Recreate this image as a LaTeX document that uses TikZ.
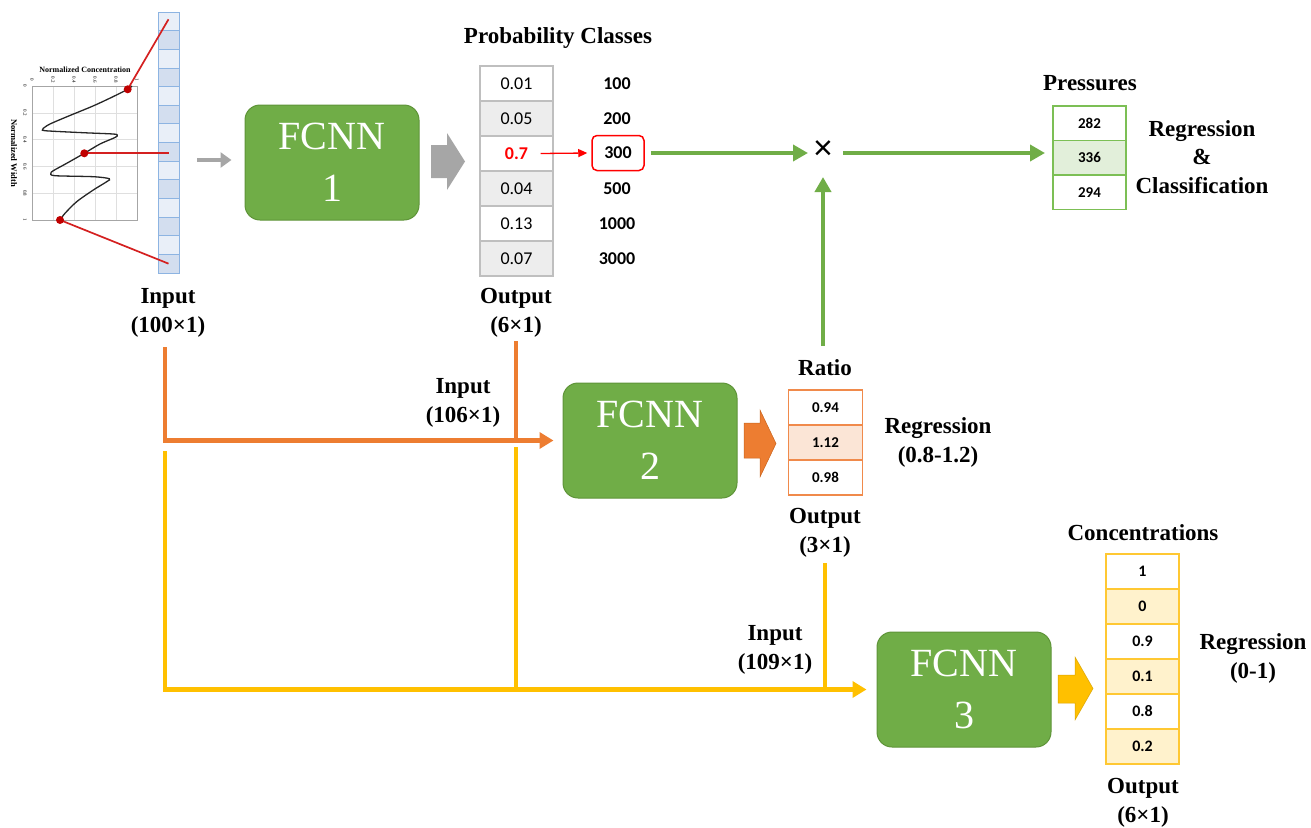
\documentclass[tikz,border=0pt]{standalone}
\usepackage{fontspec}
\setmainfont{Liberation Serif}
\newfontfamily\calfont{Carlito}
\newfontfamily\lsans{Liberation Sans}
\usetikzlibrary{arrows.meta,calc}
\definecolor{fgreen}{HTML}{70AD47}
\definecolor{fgreendark}{HTML}{5E9438}
\definecolor{gorange}{HTML}{ED7D31}
\definecolor{gorangedark}{HTML}{C8641E}
\definecolor{gyellow}{HTML}{FFC000}
\definecolor{gyellowdark}{HTML}{D9A300}
\definecolor{lgray}{HTML}{EDEDED}
\definecolor{bgray}{HTML}{BFBFBF}
\definecolor{arrgray}{HTML}{A6A6A6}
\definecolor{lgreen}{HTML}{E2EFDA}
\definecolor{bgreen}{HTML}{7CBF55}
\definecolor{lorange}{HTML}{FBE5D6}
\definecolor{borange}{HTML}{F08A4B}
\definecolor{lyellow}{HTML}{FFF2CC}
\definecolor{byellow}{HTML}{FFC833}
\definecolor{slight}{HTML}{E9EFF8}
\definecolor{sdark}{HTML}{D3DEEF}
\definecolor{sborder}{HTML}{8DB4E2}
\definecolor{dred}{HTML}{C00000}
\definecolor{lred}{HTML}{D42020}
\tikzset{
  lab/.style={font=\fontsize{23}{29}\selectfont\bfseries, align=center, inner sep=0},
  fcnnbox/.style={draw=fgreendark, line width=1, fill=fgreen, rounded corners=15,
    minimum width=174, minimum height=115, text=white, align=center,
    font=\fontsize{40}{52}\selectfont},
  cellbox/.style={draw, line width=1.6, minimum width=73, minimum height=35, inner sep=0},
  probcell/.style={cellbox, draw=bgray, font=\calfont\fontsize{18}{18}\selectfont},
  prescell/.style={cellbox, draw=bgreen, minimum height=34.5, font=\calfont\bfseries\fontsize{15}{15}\selectfont},
  ratiocell/.style={cellbox, draw=borange, minimum width=74, font=\calfont\bfseries\fontsize{15}{15}\selectfont},
  conccell/.style={cellbox, draw=byellow, font=\calfont\bfseries\fontsize{16}{16}\selectfont},
  classlab/.style={font=\calfont\bfseries\fontsize{18}{18}\selectfont, inner sep=0},
  stripcell/.style={draw=sborder, line width=0.8, minimum width=21, minimum height=18.64, inner sep=0},
  redline/.style={draw=lred, line width=1.7},
  reddot/.style={circle, fill=dred, inner sep=0, minimum size=8},
  garrow/.style={fgreen, line width=4, -{Triangle[length=15,width=16]}},
  oarrow/.style={gorange, line width=4.5, -{Triangle[length=14,width=16]}},
  yarrow/.style={gyellow, line width=4.5, -{Triangle[length=14,width=16]}},
  oline/.style={gorange, line width=4.5},
  yline/.style={gyellow, line width=4.5},
  tick/.style={font=\fontsize{5}{5}\selectfont, inner sep=0, rotate=-90}
}
\begin{document}
\begin{tikzpicture}[x=1pt,y=-1pt]
\useasboundingbox (0,0) rectangle (1311,827);
% ---------- input plot ----------
\foreach \k in {1,...,4} {
  \draw[gray!25, line width=0.3] ({32+21*\k},86) -- ({32+21*\k},220);
  \draw[gray!25, line width=0.3] (32,{86+26.8*\k}) -- (137,{86+26.8*\k});
}
\draw[gray!70, line width=0.6] (32,86) rectangle (137,220);
\node[font=\bfseries\fontsize{8}{8}\selectfont, inner sep=0] (plottitle) at (85,70) {Normalized Concentration};
\node[font=\bfseries\fontsize{8.5}{8.5}\selectfont, inner sep=0, rotate=-90] (plotylab) at (14,153) {Normalized Width};
\foreach \t/\k in {0/0,0.2/1,0.4/2,0.6/3,0.8/4,1/5} {
  \node[tick] (tx\k) at ({32+21*\k},80) {\t};
  \node[tick] (ty\k) at (25,{86+26.8*\k}) {\t};
}
\draw[black!85, line width=1.3] plot[smooth, tension=0.5] coordinates {
 (132,86) (127.7,89.3) (113,96.7) (93,106) (67,116.7) (50,124) (43.3,128.3) (42.6,129.5)
 (46,130.8) (83,132.7) (113,134) (117.3,135.2) (115,137.5) (100,144) (84.3,153.3)
 (66.7,163.3) (53.3,170.7) (50.9,173.3) (55,175.7) (93.3,176.7) (109.3,178.7)
 (106.7,181.7) (93.3,190) (76.7,201.7) (65,213.3) (60,220)};
% ---------- input strip ----------
\foreach \i in {0,2,...,12} \node[stripcell, fill=slight] (s\i) at (168.5,{12+18.64*(\i+0.5)}) {};
\foreach \i in {1,3,...,13} \node[stripcell, fill=sdark] (s\i) at (168.5,{12+18.64*(\i+0.5)}) {};
\coordinate (d1) at (127.7,89.3);
\coordinate (d2) at (84.3,153.3);
\coordinate (d3) at (60,220);
\draw[redline] (d1) -- ([yshift=2]s0.center);
\draw[redline] (d2) -- (d2 -| s7.center);
\draw[redline] (d3) -- (s13.center);
\node[reddot] (dot1) at (d1) {};
\node[reddot] (dot2) at (d2) {};
\node[reddot] (dot3) at (d3) {};
\node[lab] (inlab) at (168,312.5) {Input\\(100×1)};
% ---------- FCNN 1 ----------
\node[fcnnbox] (f1) at (332,162.5) {FCNN\\1};
\draw[arrgray, line width=4.5, -{Triangle[length=11,width=15]}] ([xshift=18]s7.east |- 0,160) -- ([xshift=-13]f1.west |- 0,160);
\fill[arrgray] (431,145) -- (447,145) -- (447,133) -- (465,161.5) -- (447,190) -- (447,178) -- (431,178) -- cycle;
% ---------- probability ----------
\node[lab] (probtitle) at (558,38) {Probability Classes};
\foreach \i/\v/\f in {1/0.01/white,2/0.05/lgray,3/{\textcolor{red}{\bfseries 0.7}}/white,4/0.04/lgray,5/0.13/white,6/0.07/lgray}
  \node[probcell, fill=\f] (p\i) at (516.5,{66+35*(\i-0.5)}) {\v};
\node[classlab] (k1) at (617,83.5) {100};
\node[classlab] (k2) at (617,118.5) {200};
\node[classlab, draw=red, line width=1.5, rounded corners=5, minimum width=52, minimum height=35] (k3) at (618,153) {300};
\node[classlab] (k4) at (617,188.5) {500};
\node[classlab] (k5) at (617,223.5) {1000};
\node[classlab] (k6) at (617,258.5) {3000};
\draw[red, line width=1.3, -{Triangle[length=9,width=8]}] ([xshift=24]p3.center) -- ([xshift=-4]k3.west);
\node[lab] (outlab1) at (516,312.5) {Output\\(6×1)};
% ---------- multiply + pressures ----------
\node[inner sep=0, minimum size=30, font=\lsans\fontsize{34}{34}\selectfont] (times) at (823,150) {×};
\coordinate (tc) at (823,153);
\draw[garrow] ([xshift=6]k3.east) -- ([xshift=-15]tc);
\draw[garrow] ([xshift=20]tc) -- (1045,153);
\node[lab] (prestitle) at (1090,83) {Pressures};
\node[prescell, fill=white] (q1) at (1089.5,123.25) {282};
\node[prescell, fill=lgreen] (q2) at (1089.5,157.75) {336};
\node[prescell, fill=white] (q3) at (1089.5,192.25) {294};
\node[lab, font=\fontsize{23}{28.5}\selectfont\bfseries] (regcls) at (1202,157) {Regression\\\&\\Classification};
% ---------- FCNN 2 ----------
\node[fcnnbox] (f2) at (650,440.5) {FCNN\\2};
\coordinate (in100) at (165,347);
\coordinate (out6) at (516,341);
\draw[oline] (out6) -- (out6 |- f2.west);
\draw[oarrow] (in100) |- ([xshift=-9]f2.west);
\node[lab] (in106) at (463,402.5) {Input\\(106×1)};
\fill[gorange, draw=gorangedark, line width=0.5] (744,423) -- (760,423) -- (760,410) -- (776,443.5) -- (760,477) -- (760,458) -- (744,458) -- cycle;
\node[lab] (ratiotitle) at (825,368) {Ratio};
\node[ratiocell, fill=white] (r1) at (825.5,407.5) {0.94};
\node[ratiocell, fill=lorange] (r2) at (825.5,442.5) {1.12};
\node[ratiocell, fill=white] (r3) at (825.5,477.5) {0.98};
\node[lab] (reg2) at (938,442.5) {Regression\\(0.8-1.2)};
\node[lab] (outlab2) at (825,532.5) {Output\\(3×1)};
\coordinate (ratiotop) at (823,346);
\draw[garrow] (ratiotop) -- (823,177);
% ---------- FCNN 3 ----------
\node[fcnnbox] (f3) at (964,689.5) {FCNN\\3};
\coordinate (y100) at (165,451);
\coordinate (y6) at (516,447);
\coordinate (y3) at (825,563);
\draw[yline] (y6) -- (y6 |- f3.west);
\draw[yline] (y3) -- (y3 |- f3.west);
\draw[yarrow] (y100) |- ([xshift=-10]f3.west);
\node[lab] (in109) at (775,650) {Input\\(109×1)};
\fill[gyellow, draw=gyellowdark, line width=0.5] (1058,675) -- (1075,675) -- (1075,657) -- (1093,688.5) -- (1075,720) -- (1075,703) -- (1058,703) -- cycle;
\node[lab] (conctitle) at (1143,533) {Concentrations};
\foreach \i/\v/\f in {1/1/white,2/0/lyellow,3/0.9/white,4/0.1/lyellow,5/0.8/white,6/0.2/lyellow}
  \node[conccell, fill=\f] (c\i) at (1142.5,{554+35*(\i-0.5)}) {\v};
\node[lab] (reg3) at (1253,658) {Regression\\(0-1)};
\node[lab] (outlab3) at (1143,802.5) {Output\\(6×1)};
\end{tikzpicture}
\end{document}
